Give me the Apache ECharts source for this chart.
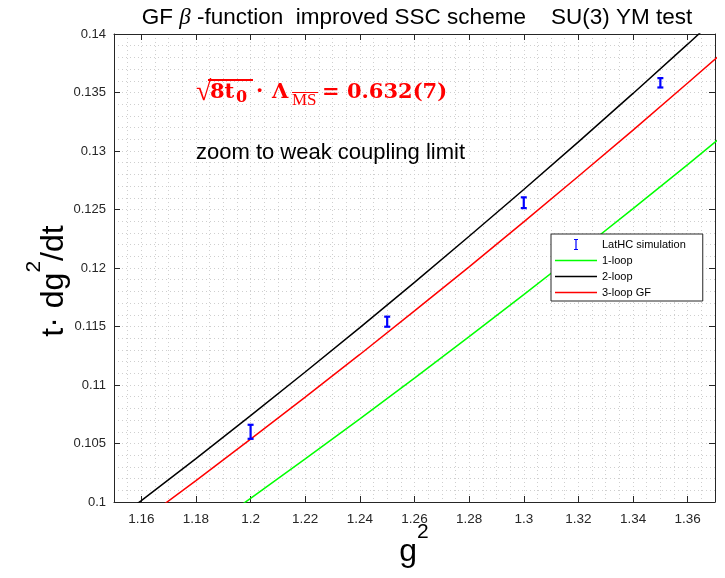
<!DOCTYPE html>
<html>
<head>
<meta charset="utf-8">
<script src="https://cdn.jsdelivr.net/npm/echarts@6/dist/echarts.min.js"></script>
<style>
  html, body { margin: 0; padding: 0; background: #ffffff; }
  #chart { width: 725px; height: 578px; }
</style>
</head>
<body>
<div id="chart"></div>
<script>
// g^2 sample points for the perturbative curves
const g2Samples = [1.14, 1.16, 1.18, 1.20, 1.22, 1.24, 1.26, 1.28, 1.30, 1.32, 1.34, 1.36, 1.38];
// t dg^2/dt at each g^2 sample
const oneLoop     = [0.09053, 0.09373, 0.09699, 0.10031, 0.10368, 0.10711, 0.11059, 0.11413, 0.11772, 0.12137, 0.12508, 0.12884, 0.13266];
const twoLoop     = [0.09659, 0.10012, 0.10371, 0.10738, 0.11111, 0.11491, 0.11877, 0.12271, 0.12671, 0.13078, 0.13492, 0.13913, 0.14341];
const threeLoopGF = [0.09495, 0.09836, 0.10183, 0.10537, 0.10896, 0.11261, 0.11633, 0.12010, 0.12394, 0.12784, 0.13179, 0.13581, 0.13989];

// lattice simulation points with errors
const latG2  = [1.20, 1.25, 1.30, 1.35];
const latVal = [0.10600, 0.11541, 0.12558, 0.13583];
const latErr = [0.00060, 0.00043, 0.00046, 0.00040];

// labelled ticks
const xTickValues = [1.16, 1.18, 1.20, 1.22, 1.24, 1.26, 1.28, 1.30, 1.32, 1.34, 1.36];
const yTickValues = [0.100, 0.105, 0.110, 0.115, 0.120, 0.125, 0.130, 0.135, 0.140];

const X_MIN = 1.15, X_MAX = 1.37;
const Y_MIN = 0.10, Y_MAX = 0.14;

const AXIS_COLOR = '#262626';
const SANS = '"Liberation Sans", Helvetica, Arial, sans-serif';
const SERIF = '"Liberation Serif", "Times New Roman", serif';
const MATH_BOLD = '"DejaVu Serif", "Liberation Serif", serif';

const fmt = v => String(parseFloat(Number(v).toFixed(3)));
const pairs = (xs, ys) => xs.map((x, i) => [x, ys[i]]);

const chart = echarts.init(document.getElementById('chart'), null, { renderer: 'canvas' });

const gridLine = { show: true, lineStyle: { color: '#cfcfcf', type: [1, 3], width: 1 } };
const lineIcon = 'path://M0,0H40V1.6H0Z';

const option = {
  backgroundColor: '#ffffff',
  animation: false,
  grid: { left: 114, right: 10, top: 34, bottom: 76, containLabel: false },
  xAxis: [
    { // bottom axis with labels
      type: 'value', position: 'bottom', min: X_MIN, max: X_MAX, interval: 0.005,
      axisLine: { show: true, onZero: false, lineStyle: { color: AXIS_COLOR, width: 1 } },
      axisTick: { show: true, inside: true, length: 6, customValues: xTickValues, lineStyle: { color: AXIS_COLOR } },
      axisLabel: { show: true, customValues: xTickValues, formatter: fmt, margin: 10,
                   color: AXIS_COLOR, fontSize: 13.5, fontFamily: SANS },
      splitLine: { show: false }
    },
    { // top border
      type: 'value', position: 'top', min: X_MIN, max: X_MAX, interval: 0.005,
      axisLine: { show: true, onZero: false, lineStyle: { color: AXIS_COLOR, width: 1 } },
      axisTick: { show: true, inside: true, length: 6, customValues: xTickValues, lineStyle: { color: AXIS_COLOR } },
      axisLabel: { show: false },
      splitLine: { show: false }
    },
    { // dotted minor grid
      type: 'value', position: 'bottom', min: X_MIN, max: X_MAX, interval: 0.005,
      axisLine: { show: false }, axisTick: { show: false }, axisLabel: { show: false },
      splitLine: gridLine
    }
  ],
  yAxis: [
    { // left axis with labels
      type: 'value', position: 'left', min: Y_MIN, max: Y_MAX, interval: 0.005,
      axisLine: { show: true, onZero: false, lineStyle: { color: AXIS_COLOR, width: 1 } },
      axisTick: { show: true, inside: true, length: 6, customValues: yTickValues, lineStyle: { color: AXIS_COLOR } },
      axisLabel: { show: true, customValues: yTickValues, formatter: fmt, margin: 8,
                   color: AXIS_COLOR, fontSize: 13, fontFamily: SANS },
      splitLine: { show: false }
    },
    { // right border
      type: 'value', position: 'right', min: Y_MIN, max: Y_MAX, interval: 0.005,
      axisLine: { show: true, onZero: false, lineStyle: { color: AXIS_COLOR, width: 1 } },
      axisTick: { show: true, inside: true, length: 6, customValues: yTickValues, lineStyle: { color: AXIS_COLOR } },
      axisLabel: { show: false },
      splitLine: { show: false }
    },
    { // dotted minor grid
      type: 'value', position: 'left', min: Y_MIN, max: Y_MAX, interval: 0.001,
      axisLine: { show: false }, axisTick: { show: false }, axisLabel: { show: false },
      splitLine: gridLine
    }
  ],
  legend: {
    orient: 'vertical',
    left: 551, top: 234,
    padding: [5, 17, 3, 4],
    itemWidth: 42, itemHeight: 11, itemGap: 5,
    backgroundColor: '#ffffff',
    borderColor: AXIS_COLOR, borderWidth: 1, borderRadius: 0,
    textStyle: { fontSize: 11, fontFamily: SANS, color: '#000000' },
    selectedMode: false,
    data: [
      { name: 'LatHC simulation', icon: 'path://M0,0H4V1H2.6V10H4V11H0V10H1.4V1H0Z', itemStyle: { color: '#0000ff' } },
      { name: '1-loop', icon: lineIcon, itemStyle: { color: '#00ff00' } },
      { name: '2-loop', icon: lineIcon, itemStyle: { color: '#000000' } },
      { name: '3-loop GF', icon: lineIcon, itemStyle: { color: '#ff0000' } }
    ]
  },
  series: [
    {
      name: 'LatHC simulation',
      type: 'custom',
      xAxisIndex: 0, yAxisIndex: 0,
      itemStyle: { color: '#0000ff' },
      data: latG2.map((x, i) => [x, latVal[i], latErr[i]]),
      renderItem: function (params, api) {
        const x = api.value(0), y = api.value(1), e = api.value(2);
        const top = api.coord([x, y + e]);
        const bot = api.coord([x, y - e]);
        const hw = 3;
        const st = { stroke: '#0000ff', lineWidth: 2.2 };
        return {
          type: 'group',
          children: [
            { type: 'line', shape: { x1: top[0], y1: top[1], x2: bot[0], y2: bot[1] }, style: st },
            { type: 'line', shape: { x1: top[0] - hw, y1: top[1], x2: top[0] + hw, y2: top[1] }, style: st },
            { type: 'line', shape: { x1: bot[0] - hw, y1: bot[1], x2: bot[0] + hw, y2: bot[1] }, style: st }
          ]
        };
      },
      z: 5
    },
    {
      name: '1-loop', type: 'line', xAxisIndex: 0, yAxisIndex: 0,
      data: pairs(g2Samples, oneLoop), symbol: 'none', clip: true,
      itemStyle: { color: '#00ff00' }, lineStyle: { color: '#00ff00', width: 1.5 }
    },
    {
      name: '2-loop', type: 'line', xAxisIndex: 0, yAxisIndex: 0,
      data: pairs(g2Samples, twoLoop), symbol: 'none', clip: true,
      itemStyle: { color: '#000000' }, lineStyle: { color: '#000000', width: 1.5 }
    },
    {
      name: '3-loop GF', type: 'line', xAxisIndex: 0, yAxisIndex: 0,
      data: pairs(g2Samples, threeLoopGF), symbol: 'none', clip: true,
      itemStyle: { color: '#ff0000' }, lineStyle: { color: '#ff0000', width: 1.5 }
    }
  ],
  graphic: [
    { // title
      type: 'text', x: 417, y: 18, z: 10,
      style: {
        text: '{a|GF }{b|β}{a| -function  improved SSC scheme    SU(3) YM test}',
        align: 'center', verticalAlign: 'middle',
        rich: {
          a: { fontSize: 22.5, fontFamily: SANS, fill: '#000000' },
          b: { fontSize: 23, fontFamily: SERIF, fontStyle: 'italic', fill: '#000000' }
        }
      }
    },
    { // y axis name
      type: 'text', x: 47, y: 281, rotation: Math.PI / 2, z: 10,
      style: {
        text: '{a|t· dg}{s|2}{a|/dt}',
        align: 'center', verticalAlign: 'middle',
        rich: {
          a: { fontSize: 32, fontFamily: SANS, fill: '#000000', lineHeight: 46, verticalAlign: 'bottom' },
          s: { fontSize: 21, fontFamily: SANS, fill: '#000000', lineHeight: 21, verticalAlign: 'top' }
        }
      }
    },
    { // x axis name
      type: 'text', x: 414, y: 545, z: 10,
      style: {
        text: '{a|g}{s|2}',
        align: 'center', verticalAlign: 'middle',
        rich: {
          a: { fontSize: 32, fontFamily: SANS, fill: '#000000', lineHeight: 46, verticalAlign: 'bottom' },
          s: { fontSize: 21, fontFamily: SANS, fill: '#000000', lineHeight: 21, verticalAlign: 'top' }
        }
      }
    },
    // formula: sqrt(8 t0) · Lambda_MSbar = 0.632(7)
    { type: 'text', x: 196, y: 93, z: 10,
      style: { text: '√', fontSize: 28, fontWeight: 'bold', fontFamily: SERIF, fill: '#ff0000', verticalAlign: 'middle' } },
    { type: 'line', z: 10, shape: { x1: 208, y1: 80, x2: 253, y2: 80 }, style: { stroke: '#ff0000', lineWidth: 1.8 } },
    { type: 'text', x: 210, y: 93, z: 10,
      style: { text: '8t', fontSize: 21, fontWeight: 'bold', fontFamily: MATH_BOLD, fill: '#ff0000', verticalAlign: 'middle' } },
    { type: 'text', x: 236, y: 98, z: 10,
      style: { text: '0', fontSize: 16, fontWeight: 'bold', fontFamily: MATH_BOLD, fill: '#ff0000', verticalAlign: 'middle' } },
    { type: 'text', x: 256, y: 92, z: 10,
      style: { text: '·', fontSize: 21, fontWeight: 'bold', fontFamily: MATH_BOLD, fill: '#ff0000', verticalAlign: 'middle' } },
    { type: 'text', x: 272, y: 93, z: 10,
      style: { text: 'Λ', fontSize: 21, fontWeight: 'bold', fontFamily: MATH_BOLD, fill: '#ff0000', verticalAlign: 'middle' } },
    { type: 'text', x: 292, y: 101, z: 10,
      style: { text: 'MS', fontSize: 17, fontFamily: SERIF, fill: '#ff0000', verticalAlign: 'middle' } },
    { type: 'line', z: 10, shape: { x1: 292, y1: 92.5, x2: 318, y2: 92.5 }, style: { stroke: '#ff0000', lineWidth: 1 } },
    { type: 'text', x: 322, y: 93, z: 10,
      style: { text: '= 0.632(7)', fontSize: 21, fontWeight: 'bold', fontFamily: MATH_BOLD, fill: '#ff0000', verticalAlign: 'middle' } },
    { // annotation
      type: 'text', x: 196, y: 153, z: 10,
      style: { text: 'zoom to weak coupling limit', fontSize: 22, fontFamily: SANS, fill: '#000000', verticalAlign: 'middle' }
    }
  ]
};

chart.setOption(option);
</script>
</body>
</html>
